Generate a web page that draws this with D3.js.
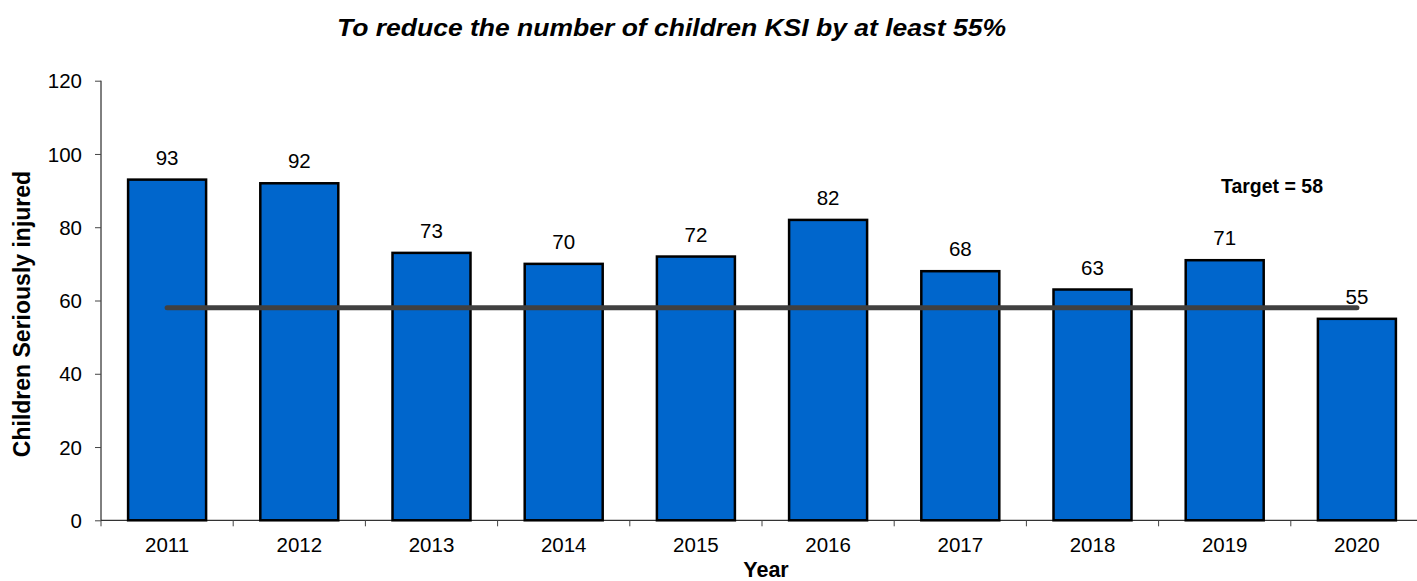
<!DOCTYPE html>
<html><head><meta charset="utf-8">
<script src="https://cdn.jsdelivr.net/npm/d3@7"></script>
<style>body{margin:0;background:#fff}svg{display:block;font-family:"Liberation Sans",Arial,sans-serif}</style>
</head><body><svg id="c" width="1417" height="581"></svg>
<script>
const years = ["2011","2012","2013","2014","2015","2016","2017","2018","2019","2020"];
const injured = [93,92,73,70,72,82,68,63,71,55];
const target = 58;
const yTicks = [0,20,40,60,80,100,120];
const title = "To reduce the number of children KSI by at least 55%";

const svg = d3.select("#c");
const mLeft = 101, mRight = 1423, mTop = 80.7, mBottom = 520.3;
const fs = 20.5;
const x = d3.scaleBand().domain(years).range([mLeft, mRight]).paddingInner(0.41).paddingOuter(0.205);
const y = d3.scaleLinear().domain([0,120]).range([mBottom, mTop]);

// bars
svg.append("g").selectAll("rect").data(years).join("rect")
  .attr("x", d => x(d)).attr("width", x.bandwidth())
  .attr("y", (d,i) => y(injured[i])).attr("height", (d,i) => y(0) - y(injured[i]))
  .attr("fill", "#0066CC").attr("stroke", "#000").attr("stroke-width", 2.5);

// axes
const yAxis = svg.append("g").attr("transform", `translate(${mLeft},0)`)
  .call(d3.axisLeft(y).tickValues(yTicks).tickSize(6).tickPadding(13));
yAxis.select(".domain").attr("stroke", "#000").attr("d", `M0,${mBottom}V${mTop}`);
yAxis.selectAll("line").attr("stroke", "#444");
yAxis.selectAll("text").attr("font-size", fs).attr("fill", "#000").attr("font-family", "Liberation Sans, Arial").attr("dy", "0.35em");

const step = x.step();
const bounds = d3.range(years.length + 1).map(i => mLeft + i * step);
const xg = svg.append("g");
xg.append("line").attr("x1", mLeft).attr("x2", 1417).attr("y1", mBottom).attr("y2", mBottom).attr("stroke", "#000");
xg.selectAll("line.t").data(bounds).join("line").attr("class","t")
  .attr("x1", d => d).attr("x2", d => d).attr("y1", mBottom).attr("y2", mBottom + 6).attr("stroke", "#444");
xg.selectAll("text").data(years).join("text")
  .attr("x", d => x(d) + x.bandwidth()/2).attr("y", 552)
  .attr("text-anchor", "middle").attr("font-size", fs).text(d => d);

// value labels
svg.append("g").selectAll("text").data(years).join("text")
  .attr("x", d => x(d) + x.bandwidth()/2).attr("y", (d,i) => y(injured[i]) - 15)
  .attr("text-anchor", "middle").attr("font-size", fs).text((d,i) => injured[i]);

// target line
svg.append("line")
  .attr("x1", x(years[0]) + x.bandwidth()/2).attr("x2", x(years[years.length-1]) + x.bandwidth()/2)
  .attr("y1", y(target)).attr("y2", y(target))
  .attr("stroke", "#404040").attr("stroke-width", 5).attr("stroke-linecap", "round");

svg.append("text").attr("x", 1272).attr("y", 193).attr("text-anchor", "middle")
  .attr("font-size", 19.5).attr("font-weight", "bold").text("Target = " + target);

// titles
svg.append("text").attr("x", 337).attr("y", 36)
  .attr("textLength", 669).attr("lengthAdjust", "spacingAndGlyphs")
  .attr("font-size", 24.5).attr("font-weight", "bold").attr("font-style", "italic").text(title);
svg.append("text").attr("transform", `translate(30,314) rotate(-90)`)
  .attr("text-anchor", "middle").attr("font-size", 23).attr("font-weight", "bold").text("Children Seriously injured");
svg.append("text").attr("x", 766).attr("y", 577).attr("text-anchor", "middle")
  .attr("font-size", 21.5).attr("font-weight", "bold").text("Year");
</script></body></html>
